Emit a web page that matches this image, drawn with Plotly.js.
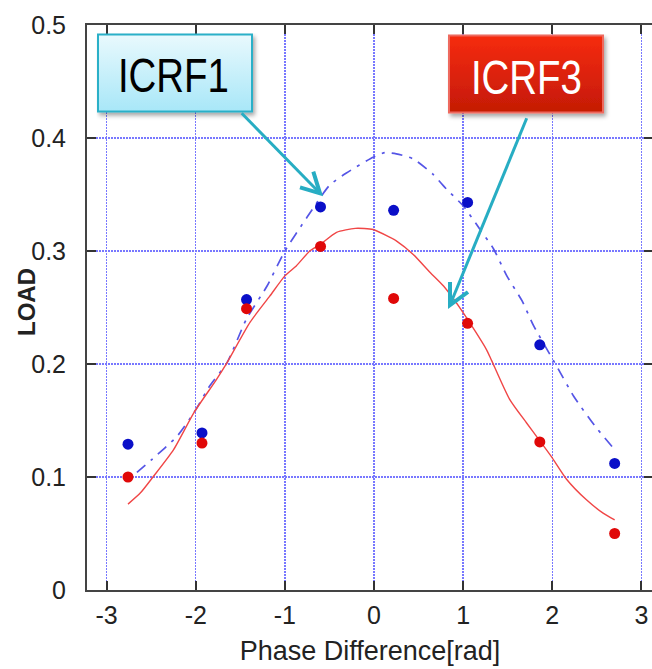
<!DOCTYPE html>
<html>
<head>
<meta charset="utf-8">
<script src="https://cdn.plot.ly/plotly-3.0.1.min.js"></script>
<style>
html,body{margin:0;padding:0;overflow:hidden;background:#fff;}
#chart{width:653px;height:669px;}
.box-label .annotation-text{transform-box:fill-box;transform-origin:center;transform:scaleX(0.8);}
</style>
</head>
<body>
<div id="chart"></div>
<script>
// ---- data ----
const phaseDiff = [-2.76, -1.93, -1.43, -0.60, 0.22, 1.05, 1.86, 2.70];
const icrf1Load = [0.129, 0.139, 0.257, 0.339, 0.336, 0.343, 0.217, 0.112];
const icrf3Load = [0.100, 0.130, 0.249, 0.304, 0.258, 0.236, 0.131, 0.050];

const icrf1FitX = [-2.66, -2.50, -2.21, -2.02, -1.84, -1.65, -1.43, -1.20, -1.00, -0.75, -0.50, -0.31, -0.01, 0.12, 0.25, 0.44, 0.66, 0.81, 1.00, 1.19, 1.34, 1.49, 1.66, 1.79, 2.05, 2.24, 2.48, 2.67];
const icrf1FitY = [0.104, 0.115, 0.136, 0.157, 0.181, 0.201, 0.240, 0.269, 0.300, 0.330, 0.358, 0.369, 0.383, 0.387, 0.386, 0.3815, 0.368, 0.355, 0.340, 0.319, 0.302, 0.278, 0.256, 0.234, 0.198, 0.1715, 0.145, 0.127];

const icrf3FitX = [-2.76, -2.62, -2.48, -2.25, -2.02, -1.77, -1.65, -1.39, -1.17, -1.00, -0.87, -0.72, -0.60, -0.42, -0.21, -0.01, 0.18, 0.25, 0.44, 0.63, 0.78, 1.00, 1.26, 1.32, 1.52, 1.71, 1.86, 1.99, 2.16, 2.38, 2.57, 2.70];
const icrf3FitY = [0.076, 0.086, 0.100, 0.124, 0.157, 0.186, 0.201, 0.237, 0.260, 0.278, 0.287, 0.300, 0.306, 0.3165, 0.320, 0.319, 0.312, 0.309, 0.297, 0.281, 0.269, 0.2455, 0.213, 0.203, 0.169, 0.148, 0.132, 0.118, 0.098, 0.080, 0.068, 0.062];

const xTickVals = [-3, -2, -1, 0, 1, 2, 3];
const xTickText = ['-3', '-2', '-1', '0', '1', '2', '3'];
const yTickVals = [0, 0.1, 0.2, 0.3, 0.4, 0.5];
const yTickText = ['0', '0.1', '0.2', '0.3', '0.4', '0.5'];

const labels = ['ICRF1', 'ICRF3'];

// ---- layout geometry helpers (pixels -> paper / data) ----
const W = 653, H = 669, ML = 87, MR = 0, MT = 25, MB = 79;
const PW = W - ML - MR, PH = H - MT - MB;
const px = v => (v - ML) / PW;
const py = v => (H - MB - v) / PH;
const XR = [-3.22, 3.13], YR = [0, 0.5];
const dx = v => XR[0] + (v - ML) / PW * (XR[1] - XR[0]);
const dy = v => (H - MB - v) / PH * (YR[1] - YR[0]);

function boxSvg(top, bottom, stroke) {
  const s = `<svg xmlns="http://www.w3.org/2000/svg" width="164" height="88" viewBox="0 0 164 88">
<defs><linearGradient id="g" x1="0" y1="0" x2="0" y2="1"><stop offset="0" stop-color="${top}"/><stop offset="1" stop-color="${bottom}"/></linearGradient>
<filter id="f" x="-10%" y="-10%" width="130%" height="140%"><feDropShadow dx="2" dy="3" stdDeviation="2" flood-color="#000" flood-opacity="0.35"/></filter></defs>
<rect x="1.5" y="1.5" width="154" height="77" fill="url(#g)" stroke="${stroke}" stroke-width="2" filter="url(#f)"/></svg>`;
  return 'data:image/svg+xml;charset=utf-8,' + encodeURIComponent(s);
}

const teal = '#27adc3';
function arrowShapes(start, tip, a1, a2) {
  return [
    {type: 'line', xref: 'x', yref: 'y', x0: dx(start[0]), y0: dy(start[1]), x1: dx(tip[0]), y1: dy(tip[1]),
     line: {color: teal, width: 3}, layer: 'above'},
    {type: 'path', xref: 'x', yref: 'y', layer: 'above',
     path: `M ${dx(a1[0])},${dy(a1[1])} L ${dx(tip[0])},${dy(tip[1])} L ${dx(a2[0])},${dy(a2[1])}`,
     line: {color: teal, width: 4}}
  ];
}

const traces = [
  {x: icrf1FitX, y: icrf1FitY, type: 'scatter', mode: 'lines', name: labels[0] + ' fit',
   line: {color: 'rgb(85,85,230)', width: 1.7, dash: '11px,7px,3px,7px', shape: 'spline', smoothing: 0.6}, hoverinfo: 'skip'},
  {x: icrf3FitX, y: icrf3FitY, type: 'scatter', mode: 'lines', name: labels[1] + ' fit',
   line: {color: 'rgb(240,70,70)', width: 1.4, shape: 'spline', smoothing: 0.6}, hoverinfo: 'skip'},
  {x: phaseDiff, y: icrf1Load, type: 'scatter', mode: 'markers', name: labels[0],
   marker: {color: '#0a0fc8', size: 11}},
  {x: phaseDiff, y: icrf3Load, type: 'scatter', mode: 'markers', name: labels[1],
   marker: {color: '#e00808', size: 11}}
];

const gridCol = 'rgb(120,120,255)';
const tickFont = {family: 'Liberation Sans, Arial, sans-serif', size: 25, color: '#222'};
const boxFont = 'Liberation Sans, Arial, sans-serif';

const layout = {
  width: W, height: H,
  margin: {l: ML, r: MR, t: MT, b: MB, pad: 0},
  paper_bgcolor: '#fff', plot_bgcolor: '#fff',
  showlegend: false,
  xaxis: {
    range: XR, tickvals: xTickVals, ticktext: xTickText,
    ticks: 'inside', ticklen: 9, tickwidth: 2, tickcolor: '#333',
    showline: true, linecolor: '#444', linewidth: 2, mirror: 'ticks',
    showgrid: true, gridcolor: gridCol, gridwidth: 1.4, griddash: '2px,1px',
    zeroline: false, tickfont: tickFont, ticklabelstandoff: 2,
    title: {text: 'Phase Difference[rad]', font: {family: 'Liberation Sans, Arial, sans-serif', size: 27, color: '#222'}, standoff: 13}
  },
  yaxis: {
    range: YR, tickvals: yTickVals, ticktext: yTickText,
    ticks: 'inside', ticklen: 9, tickwidth: 2, tickcolor: '#333',
    showline: true, linecolor: '#444', linewidth: 2, mirror: 'ticks',
    showgrid: true, gridcolor: gridCol, gridwidth: 1.4, griddash: '2px,1px',
    zeroline: false, tickfont: tickFont, ticklabelstandoff: 14
  },
  images: [
    {source: boxSvg('#e9f9fd', '#a8e7f8', '#2bb0c8'), xref: 'paper', yref: 'paper',
     x: px(96.5), y: py(33), sizex: 164 / PW, sizey: 88 / PH, xanchor: 'left', yanchor: 'top',
     sizing: 'stretch', layer: 'above'},
    {source: boxSvg('#f62b0f', '#c41a05', '#ee6a5e'), xref: 'paper', yref: 'paper',
     x: px(447.5), y: py(34), sizex: 164 / PW, sizey: 88 / PH, xanchor: 'left', yanchor: 'top',
     sizing: 'stretch', layer: 'above'}
  ],
  annotations: [
    {text: labels[0], xref: 'paper', yref: 'paper', x: px(173), y: py(75), showarrow: false,
     xanchor: 'center', yanchor: 'middle', font: {family: boxFont, size: 48, color: '#000'}, name: 'box1'},
    {text: labels[1], xref: 'paper', yref: 'paper', x: px(526), y: py(77), showarrow: false,
     xanchor: 'center', yanchor: 'middle', font: {family: boxFont, size: 48, color: '#fff'}, name: 'box3'},
    {text: 'LOAD', xref: 'paper', yref: 'paper', x: px(26), y: py(302), showarrow: false, textangle: -90,
     xanchor: 'center', yanchor: 'middle',
     font: {family: 'Liberation Sans, Arial, sans-serif', size: 24, color: '#222', weight: 'bold'}}
  ],
  shapes: [].concat(
    arrowShapes([241.7, 113.3], [320, 193.3], [313.3, 171.7], [300, 187.3]),
    arrowShapes([526.7, 118.3], [450, 305], [450, 282], [468, 292])
  )
};

Plotly.newPlot('chart', traces, layout, {displayModeBar: false, staticPlot: true}).then(gd => {
  const groups = gd.querySelectorAll('.annotation');
  // first two annotations are the box labels: condense them like the reference's narrow face
  for (let i = 0; i < 2 && i < groups.length; i++) groups[i].classList.add('box-label');
});
</script>
</body>
</html>
